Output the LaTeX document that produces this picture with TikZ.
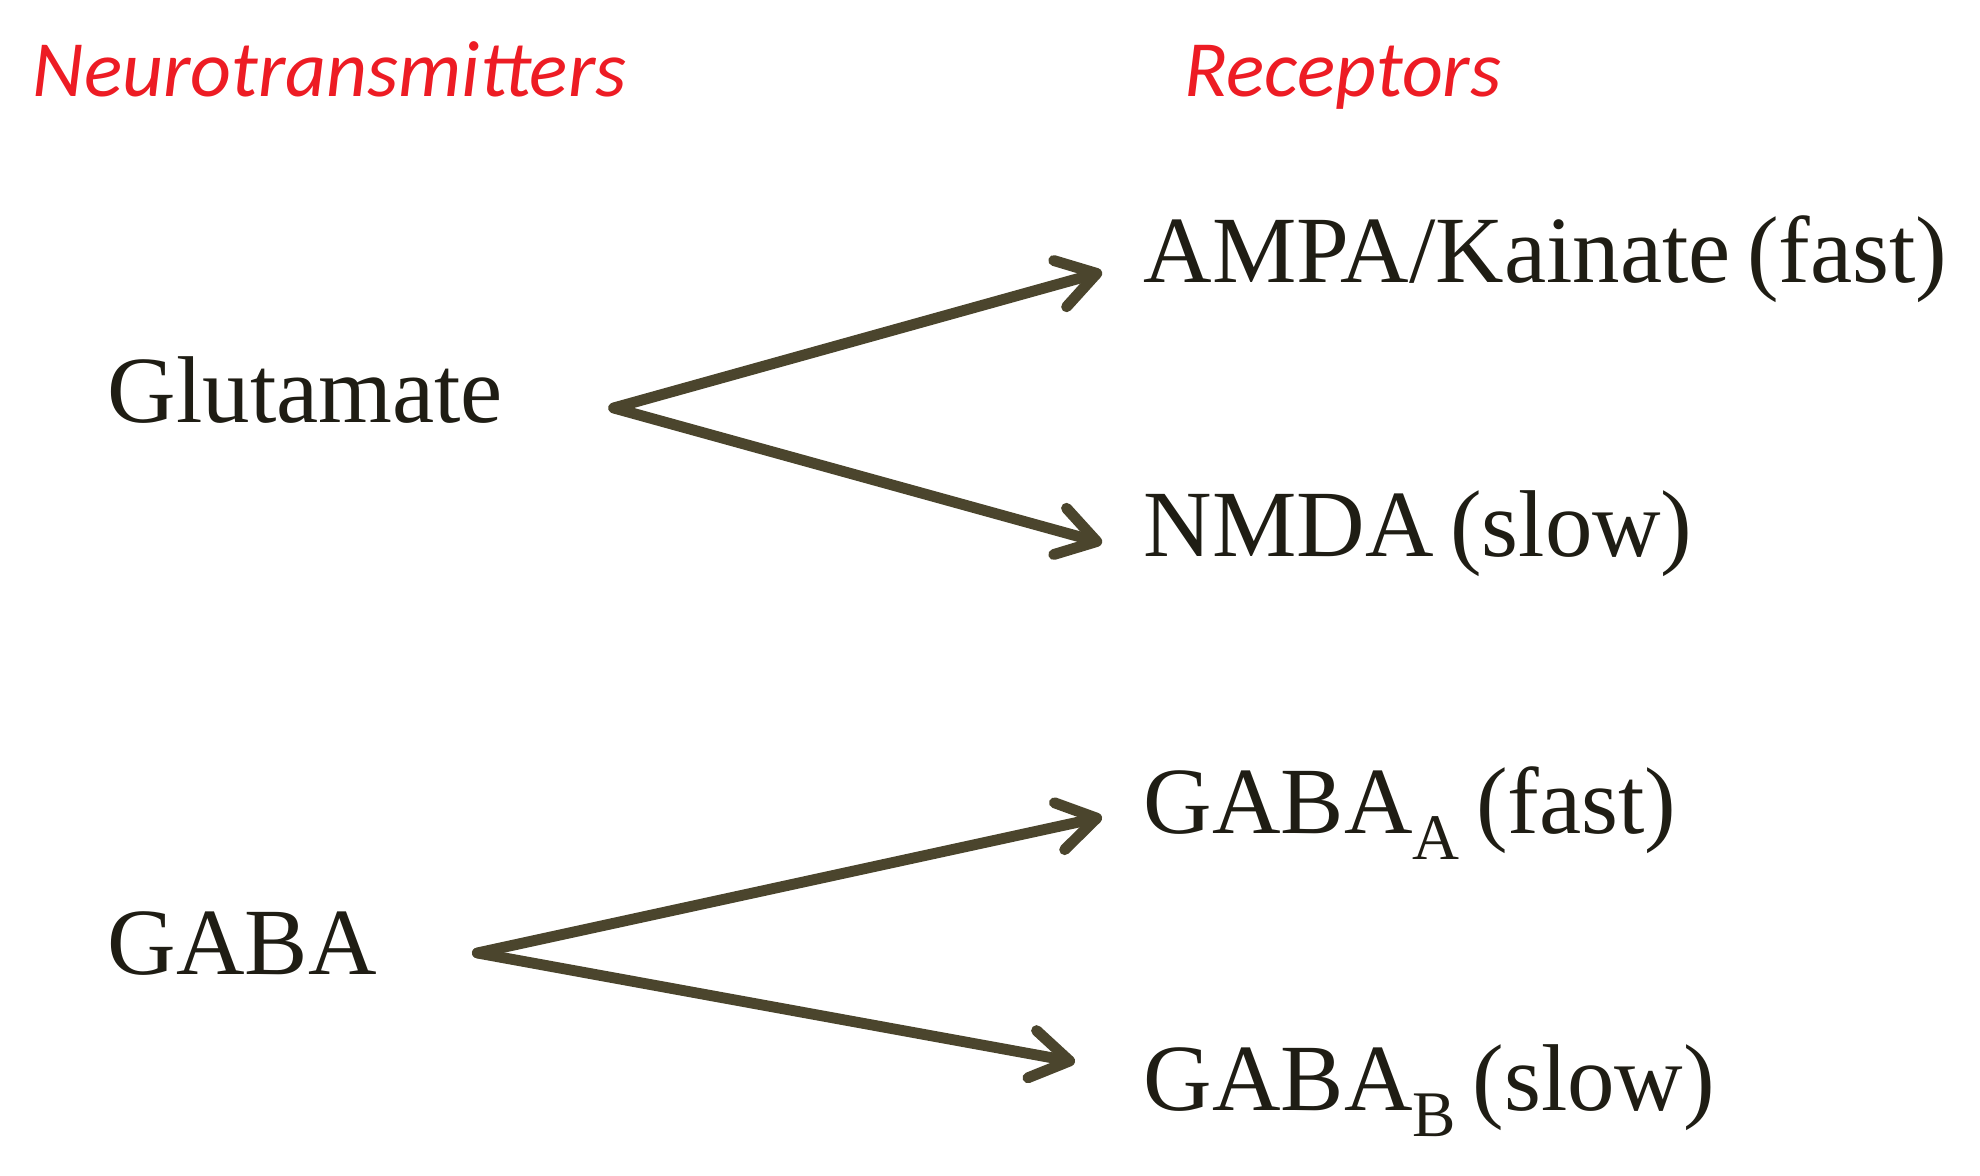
\documentclass[tikz,border=0pt]{standalone}
\usepackage{fontspec}
\usepackage{tikz}
\usetikzlibrary{arrows.meta}
\setmainfont{Liberation Serif}[WordSpace=0.7]
\newfontfamily\labelfont{Carlito}
\definecolor{inkdark}{HTML}{1F1D14}
\definecolor{arrowolive}{HTML}{4B452D}
\definecolor{headred}{HTML}{ED1C24}
\newcommand{\gsub}[1]{\raisebox{-7.4pt}{\fontsize{18.5}{19}\selectfont #1}}

\begin{document}
\begin{tikzpicture}[
  head/.style={anchor=base west,inner sep=0pt,text=headred,font=\labelfont\itshape\fontsize{22.7}{26}\selectfont},
  chem/.style={anchor=base west,inner sep=0pt,text=inkdark,font=\fontsize{27}{32}\selectfont},
  conn/.style={-{Straight Barb[length=3.8mm,width=4.8mm,round]},line width=3.1pt,draw=arrowolive,line cap=round}
]
\useasboundingbox (0,0) rectangle (19.8,11.76);

\node[head] (neuro) at (0.32,10.79) {Neurotransmitters};
\node[head] (recep) at (11.84,10.79) {Receptors};

\node[chem] (glu) at (1.07,7.53) {Glutamate};
\node[chem] (gaba) at (1.07,2.01) {GABA};

\node[chem] (ampa) at (11.43,8.93) {AMPA/Kainate (fast)};
\node[chem] (nmda) at (11.43,6.19) {NMDA (slow)};
\node[chem] (gabaa) at (11.43,3.42) {GABA\gsub{A} (fast)};
\node[chem] (gabab) at (11.43,0.65) {GABA\gsub{B} (slow)};

\draw[conn] ([shift={(1.10,0.15)}]glu.base east) -- ([shift={(-0.41,0.11)}]ampa.base west);
\draw[conn] ([shift={(1.10,0.15)}]glu.base east) -- ([shift={(-0.41,0.14)}]nmda.base west);
\draw[conn] ([shift={(1.00,0.22)}]gaba.base east) -- ([shift={(-0.41,0.17)}]gabaa.base west);
\draw[conn] ([shift={(1.00,0.22)}]gaba.base east) -- ([shift={(-0.68,0.49)}]gabab.base west);
\end{tikzpicture}
\end{document}
